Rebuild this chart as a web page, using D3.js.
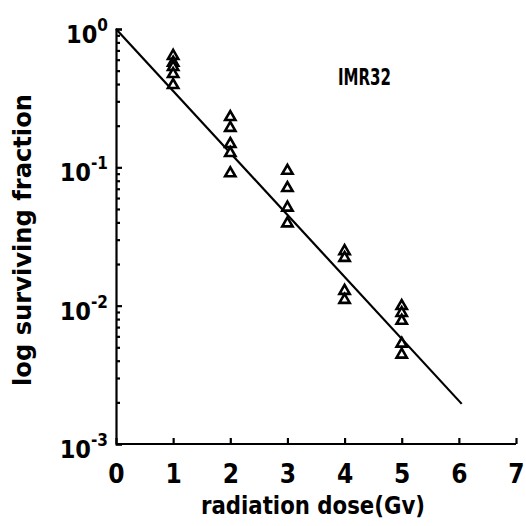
<!DOCTYPE html>
<html><head><meta charset="utf-8">
<script src="https://cdn.jsdelivr.net/npm/d3@7"></script>
<style>
html,body{margin:0;padding:0;background:#fff;}
text{font-family:"DejaVu Sans Condensed","DejaVu Sans",sans-serif;fill:#000;}
</style></head>
<body>
<script>
// Data
const doses = [1,1,1,1,1, 2,2,2,2,2, 3,3,3,3, 4,4,4,4, 5,5,5,5,5];
const survival = [0.65,0.58,0.54,0.48,0.40, 0.235,0.196,0.15,0.129,0.092, 0.096,0.072,0.052,0.040, 0.0252,0.0225,0.013,0.0112, 0.0101,0.0090,0.0079,0.0054,0.0045];
const fitDose = [0, 6.05];
const fitSurvival = [1.0, 0.00195];
const xTicks = [0,1,2,3,4,5,6,7];
const yMajor = [1, 0.1, 0.01, 0.001];
const yExponents = ["0","-1","-2","-3"];
const cellLine = "IMR32";
const xTitle = "radiation dose(Gv)";
const yTitle = "log surviving fraction";

const W = 526, H = 526;
const svg = d3.select("body").append("svg").attr("width", W).attr("height", H);

const x = d3.scaleLinear().domain([0,7]).range([116,516]);
const y = d3.scaleLog().domain([0.001,1]).range([444,29]);

// minor ticks
const yMinor = [];
[0.001,0.01,0.1].forEach(d => { for (let k=2;k<=9;k++) yMinor.push(d*k); });

// y axis
const gy = svg.append("g").attr("transform", `translate(${x(0)},0)`);
gy.call(d3.axisLeft(y).tickValues(yMajor).tickSize(-6).tickFormat(""));
gy.append("g").call(d3.axisLeft(y).tickValues(yMinor).tickSize(-4).tickFormat(""))
  .select(".domain").remove();
gy.selectAll("path,line").attr("stroke","#000").attr("stroke-width",2.2);

// x axis
const gx = svg.append("g").attr("transform", `translate(0,${y(0.001)})`);
gx.call(d3.axisBottom(x).tickValues(xTicks).tickSize(-6).tickPadding(30).tickFormat(d3.format("d")));
gx.selectAll("path,line").attr("stroke","#000").attr("stroke-width",2.2);
gx.selectAll("text").attr("font-size",26).attr("font-weight","bold").attr("dy","0.35em");
gx.select(".domain").attr("d", `M${x(0)},0H${x(7)}`);

// y tick labels with superscripts
yMajor.forEach((v,i) => {
  const t = svg.append("text")
    .attr("x", 108).attr("y", y(v) + 14)
    .attr("text-anchor","end").attr("font-size",25).attr("font-weight","bold");
  t.append("tspan").text("10");
  t.append("tspan").attr("dy",-12).attr("font-size",17).text(yExponents[i]);
});

// fit line
const line = d3.line().x((d,i)=>x(fitDose[i])).y((d,i)=>y(fitSurvival[i]));
svg.append("path").attr("d", line(fitDose)).attr("fill","none")
  .attr("stroke","#000").attr("stroke-width",2.2);

// triangles
const tri = d3.symbol().type(d3.symbolTriangle).size(46);
svg.append("g").selectAll("path").data(doses).join("path")
  .attr("d", tri)
  .attr("transform",(d,i)=>`translate(${x(d)},${y(survival[i])+1})`)
  .attr("fill","#fff").attr("stroke","#000").attr("stroke-width",2.6);

// label
svg.append("text").attr("x",338).attr("y",85).attr("font-size",23).attr("font-weight","bold")
  .attr("textLength",53).attr("lengthAdjust","spacingAndGlyphs").text(cellLine);

// axis titles
svg.append("text").attr("x",313).attr("y",514).attr("text-anchor","middle")
  .attr("font-size",25).attr("font-weight","bold")
  .attr("textLength",224).attr("lengthAdjust","spacingAndGlyphs").text(xTitle);
svg.append("text").attr("transform","translate(31,240) rotate(-90)").attr("text-anchor","middle")
  .attr("font-size",25).attr("font-weight","bold")
  .attr("textLength",292).attr("lengthAdjust","spacingAndGlyphs").text(yTitle);
</script>
</body></html>
